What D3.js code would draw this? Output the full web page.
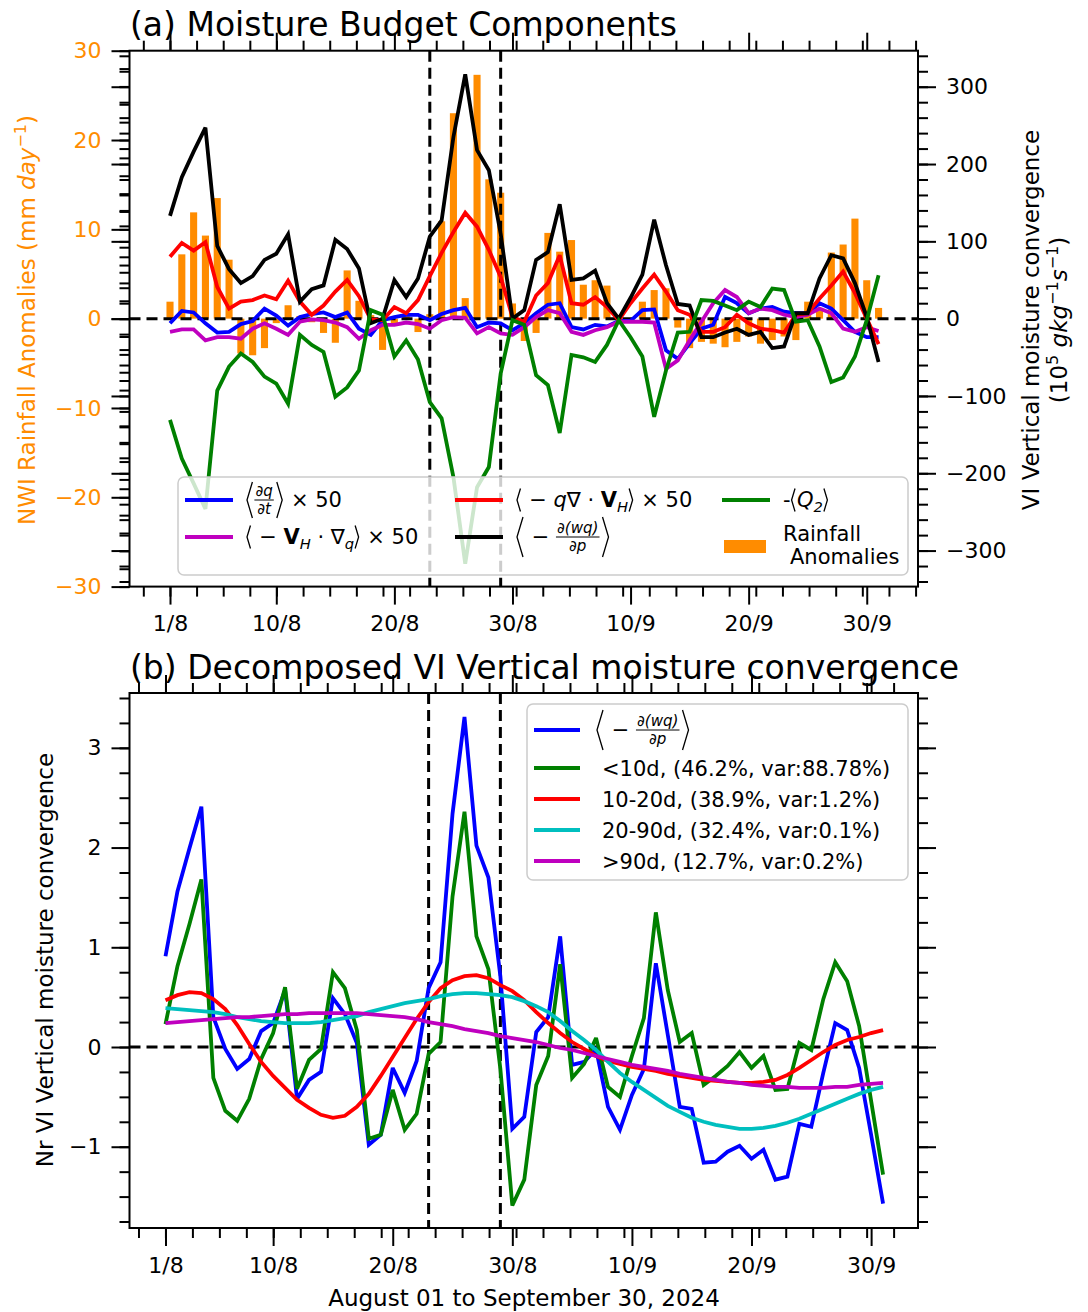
<!DOCTYPE html>
<html>
<head>
<meta charset="utf-8">
<script src="https://cdn.jsdelivr.net/npm/d3@7"></script>
<style>
  body { margin: 0; background: #fff; }
  svg { font-family: "DejaVu Sans", sans-serif; }
</style>
</head>
<body>
<svg id="svg"></svg>
<script>
// ---- data (index 0 = 1 Aug, one value per day) ----
const dayTickIdx = [0, 9, 19, 29, 39, 49, 59];
const dayTickLabels = ["1/8", "10/8", "20/8", "30/8", "10/9", "20/9", "30/9"];
const eventDays = [22, 28];

const leftTicks = [-30, -20, -10, 0, 10, 20, 30];
const rightTicks = [-300, -200, -100, 0, 100, 200, 300];
const nrTicks = [-1, 0, 1, 2, 3];

// NWI rainfall anomalies (mm/day), left axis
const rainAnom = [1.9, 7.2, 11.9, 9.3, 13.5, 6.6, -3.9, -4.1, -3.3, -0.5,
  1.5, 0.3, -0.4, -1.6, -2.7, 5.4, 2.0, 0.4, -3.5, -0.6,
  0.3, -1.5, 0.5, 10.9, 23.0, 2.3, 27.3, 15.6, 14.1, 1.7,
  -2.5, -1.6, 9.6, 7.5, 8.8, 3.8, 4.3, 3.7, 0.3, -0.4,
  1.9, 3.2, 3.4, -1.0, -3.3, -2.6, -2.8, -3.2, -2.6, -2.0,
  -2.8, -2.4, -2.0, -2.4, 1.9, 1.2, 7.4, 8.3, 11.2, 4.3, 1.2];

// moisture budget terms (10^5 g/kg/s), right axis
const dqdt = [-6, 10, 8, -6, -18, -17, -7, -3, 13, 4,
  -9, 2, 6, 8, 2, 8, -13, -21, -2, 2,
  5, 5, -2, 6, 11, 14, -11, -5, -6, -15,
  -6, 7, 18, 20, -11, -14, -8, -10, -3, -3,
  11, 12, -41, -52, -32, -13, -8, 28, 20, 7,
  13, 15, 9, 7, 7, 20, 13, -2, -17, -24, -24];
const hAdv = [-17, -14, -14, -28, -24, -24, -26, -13, -6, -13,
  -21, -4, -1, -2, -5, -11, -26, -15, -8, -8,
  -5, -7, -13, -2, 2, 1, -19, -11, -19, -21,
  -11, 2, 11, 7, -17, -21, -15, -11, -4, -4,
  -4, -5, -65, -54, -28, -4, 20, 37, 28, 7,
  13, 11, 5, 2, 5, 13, 7, -13, -17, -11, -16];
const hConv = [80, 98, 88, 99, 41, 13, 22, 24, 30, 25,
  49, 22, 5, 17, 35, 50, 29, -1, -2, 15,
  7, 24, 55, 85, 112, 137, 119, 89, 54, 2,
  -4, 30, 46, 82, 20, 18, 28, 15, -2, 20,
  39, 57, 35, 11, 5, -17, -17, -11, 5, -6,
  -13, -15, -18, 5, 7, 26, 43, 61, 33, 0, -33];
const vertConv = [133, 183, 216, 247, 94, 64, 46, 55, 76, 84,
  109, 22, 38, 43, 102, 90, 65, -6, 0, 50,
  28, 52, 106, 127, 235, 316, 218, 192, 110, 0,
  11, 76, 86, 148, 50, 52, 62, 20, 0, 27,
  57, 128, 69, 19, 17, -24, -24, -18, -13, -21,
  -17, -38, -36, 7, 7, 52, 82, 78, 46, 2, -56];
const negQ2 = [-131, -181, -213, -246, -93, -62, -45, -56, -75, -84,
  -110, -21, -34, -43, -101, -89, -67, 11, 5, -49,
  -28, -53, -108, -129, -205, -317, -218, -192, -71, -2,
  -8, -73, -86, -148, -47, -50, -56, -34, -2, -24,
  -49, -127, -67, -18, -17, 24, 23, 17, 11, 22,
  15, 39, 37, -4, -2, -36, -82, -76, -49, -2, 56];

// normalised vertical moisture convergence and its band-pass parts
const nrVert = [0.91, 1.56, 1.99, 2.41, 0.30, -0.02, -0.22, -0.12, 0.16, 0.24,
  0.57, -0.52, -0.33, -0.25, 0.49, 0.33, 0.04, -0.98, -0.88, -0.21,
  -0.46, -0.14, 0.59, 0.85, 2.34, 3.31, 2.02, 1.70, 0.71, -0.82,
  -0.70, 0.15, 0.30, 1.11, -0.18, -0.15, -0.02, -0.60, -0.83, -0.48,
  -0.22, 0.84, 0.12, -0.60, -0.62, -1.16, -1.15, -1.05, -0.99, -1.12,
  -1.03, -1.33, -1.30, -0.77, -0.80, -0.26, 0.24, 0.17, -0.21, -0.88, -1.57];
const band10 = [0.23, 0.81, 1.23, 1.68, -0.31, -0.64, -0.74, -0.52, -0.12, 0.14,
  0.60, -0.42, -0.13, -0.02, 0.75, 0.59, 0.17, -0.92, -0.88, -0.43,
  -0.83, -0.67, -0.07, 0.05, 1.51, 2.36, 1.11, 0.78, -0.22, -1.59,
  -1.33, -0.38, -0.09, 0.83, -0.31, -0.17, 0.09, -0.40, -0.50, -0.09,
  0.29, 1.35, 0.57, 0.05, 0.14, -0.38, -0.29, -0.19, -0.05, -0.21,
  -0.09, -0.43, -0.42, 0.04, -0.03, 0.48, 0.85, 0.66, 0.21, -0.54, -1.28];
const band1020 = [0.47, 0.52, 0.55, 0.54, 0.48, 0.38, 0.22, 0.03, -0.15, -0.29,
  -0.41, -0.53, -0.61, -0.68, -0.71, -0.69, -0.60, -0.47, -0.29, -0.10,
  0.09, 0.28, 0.45, 0.59, 0.67, 0.71, 0.72, 0.69, 0.62, 0.56,
  0.47, 0.35, 0.24, 0.14, 0.05, -0.02, -0.09, -0.14, -0.17, -0.20,
  -0.22, -0.24, -0.27, -0.29, -0.31, -0.33, -0.34, -0.35, -0.36, -0.36,
  -0.35, -0.33, -0.28, -0.21, -0.13, -0.05, 0.02, 0.07, 0.10, 0.14, 0.17];
const band2090 = [0.39, 0.38, 0.37, 0.36, 0.35, 0.33, 0.30, 0.28, 0.26, 0.25,
  0.24, 0.24, 0.24, 0.25, 0.27, 0.29, 0.31, 0.35, 0.38, 0.41,
  0.44, 0.46, 0.48, 0.51, 0.53, 0.54, 0.54, 0.53, 0.52, 0.50,
  0.46, 0.41, 0.35, 0.26, 0.16, 0.07, -0.03, -0.15, -0.26, -0.35,
  -0.43, -0.51, -0.59, -0.65, -0.71, -0.75, -0.78, -0.80, -0.82, -0.82,
  -0.81, -0.79, -0.76, -0.72, -0.67, -0.62, -0.57, -0.52, -0.47, -0.43, -0.40];
const band90 = [0.24, 0.25, 0.26, 0.27, 0.28, 0.29, 0.30, 0.30, 0.31, 0.32,
  0.33, 0.33, 0.34, 0.34, 0.34, 0.34, 0.34, 0.33, 0.32, 0.31,
  0.30, 0.28, 0.25, 0.23, 0.21, 0.18, 0.16, 0.14, 0.11, 0.09,
  0.07, 0.05, 0.02, -0.01, -0.03, -0.06, -0.09, -0.12, -0.15, -0.18,
  -0.20, -0.22, -0.24, -0.27, -0.29, -0.31, -0.33, -0.35, -0.36, -0.38,
  -0.39, -0.40, -0.40, -0.41, -0.41, -0.41, -0.40, -0.40, -0.38, -0.37, -0.36];

// ---- layout ----
const width = 1088;
const height = 1312;
const orange = "#ff8c00";
const tickFont = 22;
const labelFont = 23;
const lineW = 3.8;

let svg = d3.select("#svg").attr("width", width).attr("height", height);

const boxA = { left: 129.5, right: 918, top: 50.7, bottom: 586.6 };
const boxB = { left: 129.5, right: 918, top: 693, bottom: 1228 };

const xA = d3.scaleLinear().domain([-3.43, 63.34]).range([boxA.left, boxA.right]);
const yLeft = d3.scaleLinear().domain([-30, 30]).range([boxA.bottom, boxA.top]);
const yRight = d3.scaleLinear().domain([-346.6, 346.6]).range([boxA.bottom, boxA.top]);

const xB = d3.scaleLinear().domain([-3.01, 62.92]).range([boxB.left, boxB.right]);
const yB = d3.scaleLinear().domain([-1.815, 3.55]).range([boxB.bottom, boxB.top]);

const minus = v => (v < 0 ? "\u2212" + Math.abs(v) : "" + v);

// odd minor date ticks of the original, spaced about 2.25 days apart
function minorDays(x) {
  const [a, b] = x.domain();
  return d3.range(-2.26, 64, 2.255).filter(d => d >= a && d <= b);
}

function styleAxis(g, color) {
  g.select(".domain").remove();
  g.selectAll(".tick line").attr("stroke", "#000").attr("stroke-width", 2);
  g.selectAll(".tick text")
    .attr("font-size", tickFont)
    .attr("font-family", "DejaVu Sans")
    .attr("fill", color || "#000");
}

function addAxis(axis, tx, ty, color) {
  const g = svg.append("g").attr("transform", `translate(${tx},${ty})`).call(axis);
  styleAxis(g, color);
  return g;
}

function dateAxes(x, box) {
  addAxis(d3.axisBottom(x).tickValues(dayTickIdx).tickSize(18).tickPadding(11)
    .tickFormat((d, i) => dayTickLabels[i]), 0, box.bottom);
  addAxis(d3.axisBottom(x).tickValues(minorDays(x)).tickSize(10).tickFormat(""), 0, box.bottom);
  addAxis(d3.axisTop(x).tickValues(dayTickIdx).tickSize(18).tickFormat(""), 0, box.top);
  addAxis(d3.axisTop(x).tickValues(minorDays(x)).tickSize(10).tickFormat(""), 0, box.top);
}

function dashedLines(x, y, box, g) {
  g.append("line")
    .attr("x1", box.left).attr("x2", box.right)
    .attr("y1", y(0)).attr("y2", y(0))
    .attr("stroke", "#000").attr("stroke-width", 3).attr("stroke-dasharray", "11,6");
  eventDays.forEach(d => {
    g.append("line")
      .attr("x1", x(d)).attr("x2", x(d))
      .attr("y1", box.top).attr("y2", box.bottom)
      .attr("stroke", "#000").attr("stroke-width", 3).attr("stroke-dasharray", "11,6");
  });
}

function drawSeries(g, data, x, y, color) {
  const line = d3.line().x((d, i) => x(i)).y(d => y(d));
  g.append("path")
    .datum(data)
    .attr("d", line)
    .attr("fill", "none")
    .attr("stroke", color)
    .attr("stroke-width", lineW)
    .attr("stroke-linejoin", "miter")
    .attr("stroke-miterlimit", 3);
}

// lays out a little piece of maths text; y is the middle line of the row
function mathRow(g, x, y, pieces, fs) {
  let cx = x;
  const base = y + fs * 0.34;
  pieces.forEach(p => {
    if (p.br) {
      const h = p.h || fs * 0.55;
      const w = h * 0.3;
      const d = p.br === "l"
        ? `M${cx + w + 1},${y - h} L${cx + 1},${y} L${cx + w + 1},${y + h}`
        : `M${cx + 1},${y - h} L${cx + w + 1},${y} L${cx + 1},${y + h}`;
      g.append("path").attr("d", d).attr("fill", "none")
        .attr("stroke", "#000").attr("stroke-width", 1.3);
      cx += w + 3;
    } else if (p.num) {
      const fsf = fs * 0.72;
      const n = g.append("text").attr("y", y - 4).attr("font-size", fsf)
        .attr("font-style", "italic").attr("text-anchor", "middle").text(p.num);
      const dn = g.append("text").attr("y", y + fsf * 0.95).attr("font-size", fsf)
        .attr("font-style", "italic").attr("text-anchor", "middle").text(p.den);
      const w = Math.max(n.node().getComputedTextLength(), dn.node().getComputedTextLength()) + 2;
      n.attr("x", cx + w / 2);
      dn.attr("x", cx + w / 2);
      g.append("line").attr("x1", cx).attr("x2", cx + w).attr("y1", y).attr("y2", y)
        .attr("stroke", "#000").attr("stroke-width", 1);
      cx += w + 2;
    } else {
      const t = g.append("text")
        .attr("x", cx)
        .attr("y", base + (p.dy || 0) * fs)
        .attr("font-size", (p.scale || 1) * fs)
        .style("white-space", "pre")
        .attr("font-style", p.it ? "italic" : null)
        .attr("font-weight", p.bf ? "bold" : null)
        .text(p.s);
      cx += t.node().getComputedTextLength();
    }
  });
  return cx;
}

function legendLine(g, x1, x2, y, color) {
  g.append("line").attr("x1", x1).attr("x2", x2).attr("y1", y).attr("y2", y)
    .attr("stroke", color).attr("stroke-width", lineW);
}

// ---- panel (a) ----
function drawPanelA() {
  const g = svg.append("g");
  const barW = xA(0.6) - xA(0);

  g.selectAll(".bar")
    .data(rainAnom)
    .enter().append("rect")
    .attr("class", "bar")
    .attr("x", (d, i) => xA(i) - barW / 2)
    .attr("y", d => yLeft(Math.max(d, 0)))
    .attr("width", barW)
    .attr("height", d => Math.abs(yLeft(d) - yLeft(0)))
    .attr("fill", orange);

  dashedLines(xA, yLeft, boxA, g);

  drawSeries(g, dqdt, xA, yRight, "#0000ff");
  drawSeries(g, hAdv, xA, yRight, "#bf00bf");
  drawSeries(g, hConv, xA, yRight, "#ff0000");
  drawSeries(g, vertConv, xA, yRight, "#000000");
  drawSeries(g, negQ2, xA, yRight, "#008000");

  // legend
  const lg = svg.append("g");
  lg.append("rect").attr("x", 178).attr("y", 477).attr("width", 730).attr("height", 98)
    .attr("rx", 6).attr("fill", "#fff").attr("fill-opacity", 0.8)
    .attr("stroke", "#cccccc").attr("stroke-width", 1.5);
  const fs = 21;
  const sub = s => ({ s: s, it: 1, scale: 0.7, dy: 0.25 });

  legendLine(lg, 185, 233, 500, "#0000ff");
  mathRow(lg, 246, 500, [{ br: "l", h: 18 }, { num: "\u2202q", den: "\u2202t" }, { br: "r", h: 18 }, { s: " \u00d7 50" }], fs);

  legendLine(lg, 185, 233, 537, "#bf00bf");
  mathRow(lg, 246, 537, [{ br: "l" }, { s: " \u2212 " }, { s: "V", bf: 1 }, sub("H"), { s: " \u00b7 \u2207" }, sub("q"),
    { br: "r" }, { s: " \u00d7 50" }], fs);

  legendLine(lg, 455, 503, 500, "#ff0000");
  mathRow(lg, 516, 500, [{ br: "l" }, { s: " \u2212 " }, { s: "q", it: 1 }, { s: "\u2207 \u00b7 " }, { s: "V", bf: 1 }, sub("H"),
    { br: "r" }, { s: " \u00d7 50" }], fs);

  legendLine(lg, 455, 503, 537, "#000000");
  mathRow(lg, 516, 537, [{ br: "l", h: 20 }, { s: " \u2212 " }, { num: "\u2202(wq)", den: "\u2202p" }, { br: "r", h: 20 }], fs);

  legendLine(lg, 722, 770, 500, "#008000");
  mathRow(lg, 783, 500, [{ s: "-" }, { br: "l" }, { s: "Q", it: 1 }, sub("2"), { br: "r" }], fs);

  lg.append("rect").attr("x", 724).attr("y", 540).attr("width", 42).attr("height", 13).attr("fill", orange);
  lg.append("text").attr("x", 783).attr("y", 541).attr("font-size", fs).text("Rainfall");
  lg.append("text").attr("x", 790).attr("y", 564).attr("font-size", fs).text("Anomalies");

  // frame and axes
  svg.append("rect").attr("x", boxA.left).attr("y", boxA.top)
    .attr("width", boxA.right - boxA.left).attr("height", boxA.bottom - boxA.top)
    .attr("fill", "none").attr("stroke", "#000").attr("stroke-width", 2);

  addAxis(d3.axisLeft(yLeft).tickValues(leftTicks).tickSize(18).tickPadding(10).tickFormat(minus), boxA.left, 0, orange);
  addAxis(d3.axisLeft(yLeft).tickValues(d3.range(-30, 31, 2)).tickSize(10).tickFormat(""), boxA.left, 0);
  addAxis(d3.axisLeft(yRight).tickValues(rightTicks).tickSize(18).tickFormat(""), boxA.left, 0);
  addAxis(d3.axisLeft(yRight).tickValues(d3.range(-340, 341, 20)).tickSize(10).tickFormat(""), boxA.left, 0);
  addAxis(d3.axisRight(yRight).tickValues(rightTicks).tickSize(18).tickPadding(10).tickFormat(minus), boxA.right, 0);
  addAxis(d3.axisRight(yRight).tickValues(d3.range(-340, 341, 20)).tickSize(10).tickFormat(""), boxA.right, 0);
  dateAxes(xA, boxA);

  svg.append("text").attr("x", 130).attr("y", 36).attr("font-size", 33)
    .text("(a) Moisture Budget Components");

  // left axis label
  const yl = svg.append("text")
    .attr("transform", "translate(27,320) rotate(-90)")
    .attr("text-anchor", "middle").attr("dy", "0.35em")
    .attr("font-size", labelFont).attr("fill", orange);
  yl.append("tspan").text("NWI Rainfall Anomalies (mm ");
  yl.append("tspan").attr("font-style", "italic").text("day");
  yl.append("tspan").attr("font-size", 16).attr("dy", -9).text("\u22121");
  yl.append("tspan").attr("dy", 9).text(")");

  // right axis label, two lines
  svg.append("text")
    .attr("transform", "translate(1031,320) rotate(-90)")
    .attr("text-anchor", "middle").attr("dy", "0.35em")
    .attr("font-size", labelFont)
    .text("VI Vertical moisture convergence");
  const yr = svg.append("text")
    .attr("transform", "translate(1059,320) rotate(-90)")
    .attr("text-anchor", "middle").attr("dy", "0.35em")
    .attr("font-size", labelFont);
  yr.append("tspan").text("(10");
  yr.append("tspan").attr("font-size", 16).attr("dy", -9).text("5");
  yr.append("tspan").attr("dy", 9).style("white-space", "pre").text(" ");
  yr.append("tspan").attr("font-style", "italic").text("gkg");
  yr.append("tspan").attr("font-size", 16).attr("dy", -9).text("\u22121");
  yr.append("tspan").attr("dy", 9).attr("font-style", "italic").text("s");
  yr.append("tspan").attr("font-size", 16).attr("dy", -9).text("\u22121");
  yr.append("tspan").attr("dy", 9).text(")");
}

// ---- panel (b) ----
function drawPanelB() {
  const g = svg.append("g");
  dashedLines(xB, yB, boxB, g);

  drawSeries(g, nrVert, xB, yB, "#0000ff");
  drawSeries(g, band10, xB, yB, "#008000");
  drawSeries(g, band1020, xB, yB, "#ff0000");
  drawSeries(g, band2090, xB, yB, "#00bfbf");
  drawSeries(g, band90, xB, yB, "#bf00bf");

  const lg = svg.append("g");
  lg.append("rect").attr("x", 527).attr("y", 704).attr("width", 381).attr("height", 176)
    .attr("rx", 6).attr("fill", "#fff").attr("fill-opacity", 0.8)
    .attr("stroke", "#cccccc").attr("stroke-width", 1.5);
  const fs = 21;
  const rows = [
    { y: 730, color: "#0000ff" },
    { y: 768, color: "#008000", label: "<10d, (46.2%, var:88.78%)" },
    { y: 799, color: "#ff0000", label: "10-20d, (38.9%, var:1.2%)" },
    { y: 830, color: "#00bfbf", label: "20-90d, (32.4%, var:0.1%)" },
    { y: 861, color: "#bf00bf", label: ">90d, (12.7%, var:0.2%)" }
  ];
  rows.forEach((r, i) => {
    legendLine(lg, 534, 580, r.y, r.color);
    if (i === 0) {
      mathRow(lg, 596, r.y, [{ br: "l", h: 20 }, { s: " \u2212 " }, { num: "\u2202(wq)", den: "\u2202p" }, { br: "r", h: 20 }], fs);
    } else {
      lg.append("text").attr("x", 602).attr("y", r.y + 7.5).attr("font-size", fs).text(r.label);
    }
  });

  svg.append("rect").attr("x", boxB.left).attr("y", boxB.top)
    .attr("width", boxB.right - boxB.left).attr("height", boxB.bottom - boxB.top)
    .attr("fill", "none").attr("stroke", "#000").attr("stroke-width", 2);

  addAxis(d3.axisLeft(yB).tickValues(nrTicks).tickSize(18).tickPadding(10).tickFormat(minus), boxB.left, 0);
  addAxis(d3.axisLeft(yB).tickValues(d3.range(-1.75, 3.6, 0.25)).tickSize(10).tickFormat(""), boxB.left, 0);
  addAxis(d3.axisRight(yB).tickValues(nrTicks).tickSize(18).tickFormat(""), boxB.right, 0);
  addAxis(d3.axisRight(yB).tickValues(d3.range(-1.75, 3.6, 0.25)).tickSize(10).tickFormat(""), boxB.right, 0);
  dateAxes(xB, boxB);

  svg.append("text").attr("x", 130).attr("y", 679).attr("font-size", 33)
    .text("(b) Decomposed VI Vertical moisture convergence");

  svg.append("text")
    .attr("transform", "translate(45,960) rotate(-90)")
    .attr("text-anchor", "middle").attr("dy", "0.35em")
    .attr("font-size", labelFont)
    .text("Nr VI Vertical moisture convergence");

  svg.append("text")
    .attr("x", 524).attr("y", 1306)
    .attr("text-anchor", "middle")
    .attr("font-size", labelFont)
    .text("August 01 to September 30, 2024");
}

function initialise() {
  drawPanelA();
  drawPanelB();
}

initialise();
</script>
</body>
</html>
